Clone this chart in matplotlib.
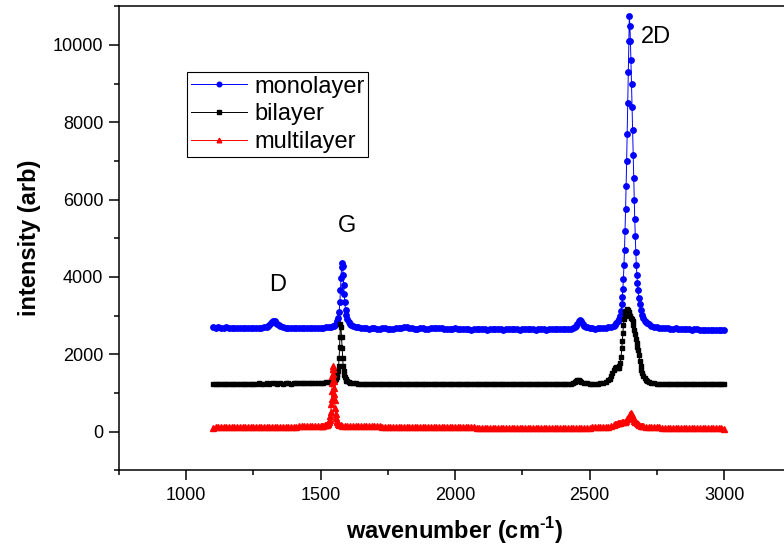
import matplotlib
matplotlib.use("Agg")
import matplotlib.pyplot as plt
from matplotlib.ticker import MultipleLocator

plt.rcParams["font.family"] = ["Liberation Sans", "DejaVu Sans"]
plt.rcParams["mathtext.fontset"] = "custom"
plt.rcParams["mathtext.rm"] = "Liberation Sans:bold"
plt.rcParams["mathtext.bf"] = "Liberation Sans:bold"

# (wavenumber cm-1, intensity)
mono = [
    (1100, 2700), (1110, 2690), (1120, 2695), (1130, 2680), (1140, 2690), (1150, 2700),
    (1160, 2685), (1170, 2690), (1180, 2680), (1190, 2675), (1200, 2690), (1210, 2680),
    (1220, 2670), (1230, 2690), (1240, 2680), (1250, 2675), (1260, 2685), (1270, 2690),
    (1280, 2680), (1290, 2700), (1300, 2710), (1305, 2730), (1310, 2760), (1315, 2800),
    (1320, 2840), (1325, 2870), (1330, 2860), (1335, 2820), (1340, 2780), (1345, 2750),
    (1350, 2730), (1360, 2700), (1370, 2690), (1380, 2680), (1390, 2690), (1400, 2670),
    (1410, 2685), (1420, 2675), (1430, 2690), (1440, 2680), (1450, 2670), (1460, 2690),
    (1470, 2680), (1480, 2675), (1490, 2690), (1500, 2680), (1510, 2690), (1520, 2695),
    (1530, 2700), (1540, 2710), (1545, 2720), (1550, 2735), (1555, 2760), (1560, 2810),
    (1563, 2860), (1566, 2950), (1569, 3100), (1572, 3350), (1574, 3650), (1576, 3980),
    (1578, 4250), (1580, 4360), (1582, 4280), (1584, 4050), (1586, 3780), (1588, 3550),
    (1590, 3350), (1593, 3150), (1596, 3010), (1600, 2900), (1605, 2830), (1610, 2790),
    (1615, 2760), (1620, 2740), (1630, 2710), (1640, 2695), (1650, 2680), (1660, 2690),
    (1670, 2670), (1680, 2660), (1690, 2675), (1700, 2680), (1710, 2665), (1720, 2660),
    (1730, 2675), (1740, 2670), (1750, 2655), (1760, 2650), (1770, 2665), (1780, 2670),
    (1790, 2680), (1800, 2690), (1810, 2700), (1820, 2705), (1830, 2680), (1840, 2670),
    (1850, 2665), (1860, 2660), (1870, 2675), (1880, 2680), (1890, 2665), (1900, 2660),
    (1910, 2670), (1920, 2675), (1930, 2685), (1940, 2690), (1950, 2670), (1960, 2660),
    (1970, 2655), (1980, 2650), (1990, 2660), (2000, 2670), (2010, 2660), (2020, 2650),
    (2030, 2655), (2040, 2660), (2050, 2650), (2060, 2640), (2070, 2650), (2080, 2660),
    (2090, 2655), (2100, 2650), (2110, 2645), (2120, 2640), (2130, 2650), (2140, 2660),
    (2150, 2655), (2160, 2650), (2170, 2645), (2180, 2640), (2190, 2650), (2200, 2660),
    (2210, 2655), (2220, 2650), (2230, 2645), (2240, 2640), (2250, 2645), (2260, 2650),
    (2270, 2655), (2280, 2660), (2290, 2650), (2300, 2640), (2310, 2645), (2320, 2650),
    (2330, 2645), (2340, 2640), (2350, 2645), (2360, 2650), (2370, 2655), (2380, 2660),
    (2390, 2650), (2400, 2650), (2410, 2655), (2420, 2660), (2430, 2665), (2440, 2675),
    (2445, 2695), (2450, 2730), (2455, 2790), (2460, 2860), (2465, 2890), (2470, 2850),
    (2475, 2790), (2480, 2740), (2485, 2710), (2490, 2695), (2500, 2680), (2510, 2670),
    (2520, 2665), (2530, 2670), (2540, 2675), (2550, 2680), (2560, 2685), (2570, 2695),
    (2580, 2710), (2590, 2740), (2595, 2765), (2600, 2800), (2605, 2850), (2610, 2920),
    (2614, 3000), (2617, 3120), (2620, 3300), (2622, 3480), (2624, 3700), (2626, 3950),
    (2628, 4300), (2630, 4700), (2632, 5200), (2634, 5750), (2636, 6350), (2638, 7000),
    (2640, 7700), (2642, 8500), (2644, 9300), (2646, 10100), (2648, 10750), (2650, 10500),
    (2652, 10100), (2654, 9600), (2656, 9000), (2658, 8400), (2660, 7800), (2662, 7150),
    (2664, 6550), (2666, 6000), (2668, 5500), (2670, 5050), (2672, 4650), (2674, 4300),
    (2676, 4050), (2678, 3850), (2680, 3650), (2683, 3450), (2686, 3300), (2690, 3150),
    (2695, 3020), (2700, 2930), (2705, 2870), (2710, 2830), (2715, 2800), (2720, 2780),
    (2730, 2740), (2740, 2715), (2750, 2700), (2760, 2690), (2770, 2680), (2780, 2670),
    (2790, 2675), (2800, 2665), (2810, 2660), (2820, 2670), (2830, 2660), (2840, 2650),
    (2850, 2655), (2860, 2660), (2870, 2645), (2880, 2640), (2890, 2650), (2900, 2645),
    (2910, 2640), (2920, 2635), (2930, 2640), (2940, 2630), (2950, 2635), (2960, 2640),
    (2970, 2625), (2980, 2620), (2990, 2630), (3000, 2625),
]

bi = [
    (1100, 1220), (1110, 1225), (1120, 1230), (1130, 1220), (1140, 1225), (1150, 1230),
    (1160, 1225), (1170, 1235), (1180, 1230), (1190, 1225), (1200, 1235), (1210, 1230),
    (1220, 1240), (1230, 1235), (1240, 1230), (1250, 1240), (1260, 1235), (1270, 1245),
    (1280, 1240), (1290, 1235), (1300, 1245), (1310, 1240), (1320, 1250), (1330, 1245),
    (1340, 1240), (1350, 1245), (1360, 1240), (1370, 1250), (1380, 1245), (1390, 1240),
    (1400, 1250), (1410, 1245), (1420, 1255), (1430, 1250), (1440, 1245), (1450, 1255),
    (1460, 1250), (1470, 1255), (1480, 1260), (1490, 1255), (1500, 1260), (1510, 1265),
    (1520, 1270), (1530, 1275), (1540, 1285), (1545, 1295), (1550, 1310), (1555, 1340),
    (1558, 1370), (1561, 1420), (1563, 1480), (1565, 1570), (1567, 1700), (1569, 1900),
    (1571, 2200), (1572, 2450), (1574, 2780), (1576, 2700), (1578, 2450), (1580, 2150),
    (1582, 1900), (1584, 1700), (1586, 1560), (1588, 1470), (1590, 1410), (1593, 1360),
    (1596, 1320), (1600, 1300), (1605, 1280), (1610, 1265), (1620, 1250), (1630, 1245),
    (1640, 1240), (1650, 1235), (1660, 1240), (1670, 1230), (1680, 1235), (1690, 1240),
    (1700, 1230), (1710, 1235), (1720, 1230), (1730, 1240), (1740, 1235), (1750, 1225),
    (1760, 1230), (1770, 1235), (1780, 1230), (1790, 1225), (1800, 1235), (1810, 1230),
    (1820, 1225), (1830, 1235), (1840, 1230), (1850, 1225), (1860, 1230), (1870, 1235),
    (1880, 1225), (1890, 1230), (1900, 1235), (1910, 1225), (1920, 1230), (1930, 1225),
    (1940, 1230), (1950, 1235), (1960, 1225), (1970, 1230), (1980, 1225), (1990, 1220),
    (2000, 1230), (2010, 1225), (2020, 1230), (2030, 1220), (2040, 1225), (2050, 1230),
    (2060, 1220), (2070, 1225), (2080, 1230), (2090, 1220), (2100, 1225), (2110, 1230),
    (2120, 1220), (2130, 1225), (2140, 1230), (2150, 1220), (2160, 1225), (2170, 1220),
    (2180, 1225), (2190, 1230), (2200, 1220), (2210, 1225), (2220, 1220), (2230, 1225),
    (2240, 1230), (2250, 1220), (2260, 1225), (2270, 1220), (2280, 1225), (2290, 1230),
    (2300, 1220), (2310, 1225), (2320, 1220), (2330, 1225), (2340, 1230), (2350, 1225),
    (2360, 1220), (2370, 1225), (2380, 1230), (2390, 1225), (2400, 1230), (2410, 1235),
    (2420, 1235), (2430, 1240), (2440, 1255), (2445, 1275), (2450, 1305), (2455, 1335),
    (2460, 1325), (2465, 1300), (2470, 1275), (2480, 1255), (2490, 1245), (2500, 1240),
    (2510, 1235), (2520, 1235), (2530, 1240), (2540, 1245), (2550, 1260), (2560, 1285),
    (2570, 1330), (2575, 1370), (2580, 1430), (2585, 1510), (2590, 1590), (2595, 1640),
    (2600, 1660), (2605, 1650), (2608, 1655), (2611, 1690), (2614, 1770), (2617, 1920),
    (2620, 2150), (2622, 2350), (2624, 2550), (2626, 2750), (2628, 2900), (2630, 3000),
    (2633, 3080), (2636, 3130), (2639, 3170), (2642, 3150), (2645, 3100), (2648, 3040),
    (2651, 2990), (2654, 2950), (2657, 2910), (2660, 2860), (2663, 2760), (2666, 2640),
    (2669, 2520), (2672, 2400), (2675, 2290), (2678, 2200), (2681, 2110), (2684, 1970),
    (2687, 1820), (2690, 1700), (2693, 1600), (2696, 1520), (2700, 1450), (2705, 1380),
    (2710, 1335), (2715, 1305), (2720, 1285), (2730, 1260), (2740, 1248), (2750, 1240),
    (2760, 1238), (2770, 1235), (2780, 1240), (2790, 1232), (2800, 1235), (2810, 1230),
    (2820, 1235), (2830, 1228), (2840, 1232), (2850, 1230), (2860, 1225), (2870, 1232),
    (2880, 1228), (2890, 1225), (2900, 1230), (2910, 1225), (2920, 1228), (2930, 1222),
    (2940, 1226), (2950, 1222), (2960, 1225), (2970, 1220), (2980, 1224), (2990, 1220),
    (3000, 1222),
]

multi = [
    (1100, 105), (1110, 108), (1120, 110), (1130, 108), (1140, 112), (1150, 110),
    (1160, 113), (1170, 112), (1180, 115), (1190, 113), (1200, 116), (1210, 115),
    (1220, 118), (1230, 116), (1240, 119), (1250, 118), (1260, 120), (1270, 119),
    (1280, 122), (1290, 121), (1300, 123), (1310, 122), (1320, 125), (1330, 124),
    (1340, 126), (1350, 125), (1360, 127), (1370, 128), (1380, 127), (1390, 129),
    (1400, 130), (1410, 129), (1420, 131), (1430, 132), (1440, 131), (1450, 133),
    (1460, 135), (1470, 136), (1480, 138), (1490, 140), (1500, 143), (1505, 146),
    (1510, 150), (1515, 158), (1520, 168), (1523, 178), (1526, 195), (1529, 220),
    (1532, 260), (1534, 310), (1536, 390), (1538, 500), (1540, 700), (1541, 850),
    (1542, 1050), (1543, 1250), (1544, 1450), (1545, 1620), (1546, 1700), (1547, 1620),
    (1548, 1480), (1549, 1300), (1550, 1120), (1551, 960), (1552, 820), (1554, 600),
    (1556, 450), (1558, 350), (1560, 285), (1563, 235), (1566, 205), (1570, 180),
    (1575, 165), (1580, 155), (1590, 148), (1600, 143), (1610, 142), (1620, 141),
    (1630, 140), (1640, 139), (1650, 138), (1660, 137), (1670, 136), (1680, 135),
    (1690, 134), (1700, 133), (1710, 132), (1720, 131), (1730, 130), (1740, 129),
    (1750, 128), (1760, 127), (1770, 127), (1780, 126), (1790, 125), (1800, 124),
    (1810, 124), (1820, 123), (1830, 122), (1840, 121), (1850, 121), (1860, 120),
    (1870, 119), (1880, 118), (1890, 118), (1900, 117), (1910, 116), (1920, 116),
    (1930, 115), (1940, 114), (1950, 114), (1960, 113), (1970, 112), (1980, 112),
    (1990, 111), (2000, 110), (2010, 110), (2020, 109), (2030, 108), (2040, 108),
    (2050, 107), (2060, 106), (2070, 106), (2080, 105), (2090, 104), (2100, 104),
    (2110, 103), (2120, 103), (2130, 102), (2140, 102), (2150, 101), (2160, 101),
    (2170, 100), (2180, 100), (2190, 99), (2200, 99), (2210, 98), (2220, 98),
    (2230, 97), (2240, 97), (2250, 96), (2260, 96), (2270, 96), (2280, 95),
    (2290, 95), (2300, 95), (2310, 94), (2320, 94), (2330, 94), (2340, 94),
    (2350, 94), (2360, 95), (2370, 95), (2380, 96), (2390, 97), (2400, 98),
    (2410, 100), (2420, 102), (2430, 104), (2440, 105), (2450, 104), (2460, 103),
    (2470, 102), (2480, 102), (2490, 103), (2500, 104), (2510, 106), (2520, 108),
    (2530, 110), (2540, 113), (2550, 117), (2560, 122), (2570, 130), (2580, 142),
    (2590, 165), (2595, 185), (2600, 200), (2605, 215), (2610, 225), (2615, 232),
    (2620, 238), (2625, 245), (2630, 258), (2635, 280), (2640, 315), (2643, 345),
    (2646, 385), (2649, 430), (2652, 465), (2655, 470), (2658, 430), (2661, 380),
    (2664, 330), (2667, 285), (2670, 250), (2675, 215), (2680, 190), (2685, 170),
    (2690, 155), (2695, 143), (2700, 135), (2710, 125), (2720, 118), (2730, 113),
    (2740, 110), (2750, 108), (2760, 106), (2770, 104), (2780, 102), (2790, 101),
    (2800, 100), (2810, 98), (2820, 97), (2830, 96), (2840, 95), (2850, 94),
    (2860, 93), (2870, 92), (2880, 91), (2890, 90), (2900, 89), (2910, 88),
    (2920, 87), (2930, 86), (2940, 85), (2950, 84), (2960, 83), (2970, 82),
    (2980, 81), (2990, 80), (3000, 79),
]

peak_names = ["D", "G", "2D"]
peak_text_at = [(1340, 3800), (1598, 5330), (2748, 10200)]

fig = plt.figure(figsize=(7.84, 5.49), dpi=100)
ax = fig.add_axes([0.1515, 0.1435, 0.8578, 0.845])

x, y = zip(*mono)
ax.plot(x, y, "o-", color="#0000ff", ms=3.9, lw=0.7, label="monolayer")
x, y = zip(*bi)
ax.plot(x, y, "s-", color="black", ms=3.3, lw=0.7, label="bilayer")
x, y = zip(*multi)
ax.plot(x, y, "^-", color="#ff0000", ms=3.9, lw=0.7, label="multilayer")

for name, (px, py) in zip(peak_names, peak_text_at):
    ax.text(px, py, name, fontsize=17, ha="center", va="center")

ax.set_xlim(750, 3250)
ax.set_ylim(-1000, 11000)
ax.xaxis.set_major_locator(MultipleLocator(500))
ax.xaxis.set_minor_locator(MultipleLocator(250))
ax.yaxis.set_major_locator(MultipleLocator(2000))
ax.yaxis.set_minor_locator(MultipleLocator(1000))
ax.tick_params(which="both", direction="out", width=1.1, labelsize=13)
ax.tick_params(which="major", length=7.2)
ax.tick_params(which="minor", length=3.6)
ax.tick_params(axis="x", pad=5)
ax.tick_params(axis="y", pad=4)
for s in ax.spines.values():
    s.set_linewidth(1.1)

fig.text(30 / 784, 1 - 238 / 549, "intensity (arb)", rotation=90, fontsize=17,
         fontweight="bold", ha="center", va="center")
fig.text(455 / 784, 1 - 531 / 549, r"wavenumber (cm$^{\text{-1}}$)", fontsize=17,
         fontweight="bold", ha="center", va="center")

leg = ax.legend(loc="upper left", bbox_to_anchor=(187 / 784, 1 - 72 / 549),
                bbox_transform=fig.transFigure, fontsize=17, frameon=True,
                fancybox=False, edgecolor="black", framealpha=1, borderpad=0.15,
                labelspacing=0.25, handlelength=2.4, handletextpad=0.3,
                numpoints=1, borderaxespad=0, markerscale=0.85)
leg.get_frame().set_linewidth(0.8)

fig.savefig("out.png", dpi=100, facecolor="white")
